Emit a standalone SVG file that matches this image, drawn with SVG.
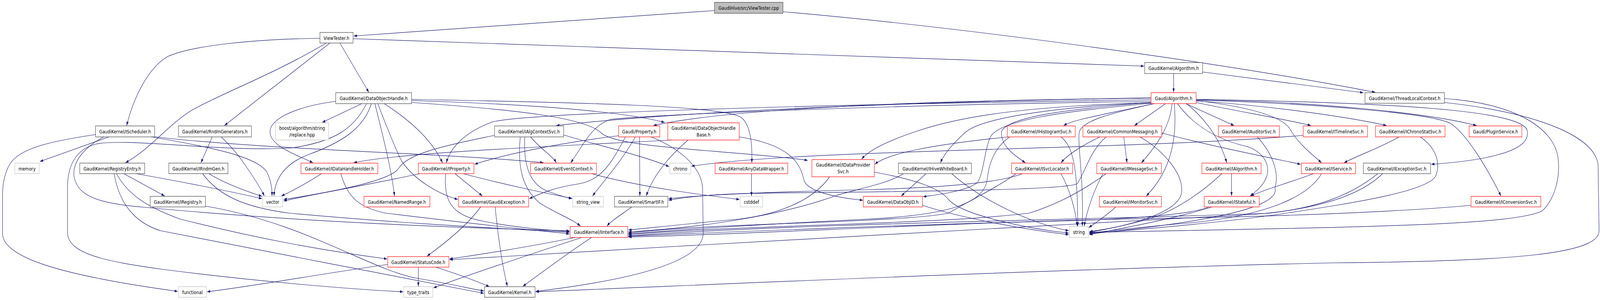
<svg xmlns="http://www.w3.org/2000/svg" width="4976" height="767" viewBox="0 0 4976 767" preserveAspectRatio="none" style="width:100%;height:100%;display:block">
<style>
.e{fill:none;stroke:#191970;stroke-width:1.2;marker-end:url(#ah)}
rect{fill:#ffffff;stroke-width:1.2}
.k{stroke:#404040}
.r{stroke:#ff0000}
.g{stroke:#bfbfbf}
.root{fill:#bfbfbf;stroke:#404040}
text{font-family:"DejaVu Sans","Liberation Sans",sans-serif;font-size:12.8px;text-anchor:middle;fill:#000000}
</style>
<defs>
<marker id="ah" viewBox="0 0 10 7" refX="10" refY="3.5" markerWidth="10" markerHeight="7" markerUnits="userSpaceOnUse" orient="auto"><path d="M0,0 L10,3.5 L0,7 Z" fill="#191970"/></marker>
</defs>
<rect x="0" y="0" width="4976" height="767" style="fill:#ffffff;stroke:none"/>
<g id="edges">
<path class="e" d="M2222,27 L1100,92"/>
<path class="e" d="M2435,30 C3000,70 3800,160 4277,236"/>
<path class="e" d="M1098,99 L3558,169"/>
<path class="e" d="M1057,110 L1147,236"/>
<path class="e" d="M995,98 C800,100 600,115 520,145 C460,175 415,250 394,321"/>
<path class="e" d="M1026,110 L698,321"/>
<path class="e" d="M1015,110 C850,190 700,235 600,280 C520,320 470,380 390,416"/>
<path class="e" d="M3650,188 L3650,236"/>
<path class="e" d="M3740,184 L4240,237"/>
<path class="e" d="M3625,265 L3528,321"/>
<path class="e" d="M3688,265 L3838,321"/>
<path class="e" d="M3720,262 C3850,285 4000,305 4077,321"/>
<path class="e" d="M3720,258 C3950,270 4200,300 4312,321"/>
<path class="e" d="M3720,255 C4100,260 4450,290 4592,321"/>
<path class="e" d="M3645,265 C3640,320 3600,370 3550,416"/>
<path class="e" d="M3652,265 C3660,340 3650,430 3565,501"/>
<path class="e" d="M3662,265 C3720,330 3800,360 3880,375 C3930,390 3950,420 3940,450 C3930,475 3905,490 3888,501"/>
<path class="e" d="M3690,265 C3760,310 3800,370 3815,416"/>
<path class="e" d="M3720,257 C3900,275 3990,300 4012,330 C4035,365 4080,395 4110,416"/>
<path class="e" d="M3720,254 C4300,262 4765,280 4750,340 C4755,390 4600,412 4451,420"/>
<path class="e" d="M3720,256 C4100,265 4450,290 4510,315 C4560,340 4625,430 4668,501"/>
<path class="e" d="M3580,262 C3300,280 3140,300 3115,335 C3110,370 3150,395 3189,416"/>
<path class="e" d="M3580,250 C3000,258 2200,278 1730,321"/>
<path class="e" d="M3580,251 C3000,256 2300,272 2032,321"/>
<path class="e" d="M3588,265 C3450,290 3340,305 3308,321"/>
<path class="e" d="M3580,262 C3200,272 3000,295 2860,333 C2760,360 2700,385 2680,407"/>
<path class="e" d="M3580,263 C3300,272 3050,300 3000,340 C2960,370 2935,395 2925,416"/>
<path class="e" d="M3582,264 C3300,285 3110,307 3080,350 C3060,390 3060,440 3040,467 C3000,490 2920,497 2871,503"/>
<path class="e" d="M3580,259 C2800,268 2100,290 1900,305 C1840,320 1815,370 1775,416"/>
<path class="e" d="M3580,255 C2500,268 1650,288 1530,312 C1440,340 1400,380 1388,416"/>
<path class="e" d="M3590,265 C3450,290 3360,310 3356,340 C3352,380 3370,450 3366,578"/>
<path class="e" d="M1125,265 L1002,313"/>
<path class="e" d="M1166,265 C1185,330 1215,420 1227,501"/>
<path class="e" d="M1175,265 C1200,320 1235,390 1250,413 C1290,460 1360,495 1424,510"/>
<path class="e" d="M1044,259 C900,275 835,310 840,340 C845,375 920,395 973,416"/>
<path class="e" d="M1155,265 C1130,330 1060,365 960,395 C880,420 855,460 852,501"/>
<path class="e" d="M1140,265 C1100,330 1040,362 909,378 C700,390 400,352 300,368 C230,382 210,430 210,480 L210,597 C215,650 330,668 500,688 C800,720 1100,740 1254,746"/>
<path class="e" d="M1280,262 C1600,280 1820,300 1870,340 C1920,380 2300,385 2512,410"/>
<path class="e" d="M1280,257 C1700,268 1950,288 2067,313"/>
<path class="e" d="M1280,254 C1800,262 2250,270 2305,300 C2335,320 2340,370 2338,416"/>
<path class="e" d="M1195,265 C1280,310 1345,360 1376,416"/>
<path class="e" d="M4492,262 C4750,285 4955,340 4970,420 L4973,590 C4975,650 4700,668 4150,672 C3200,690 2300,725 1666,746"/>
<path class="e" d="M4492,252 C4720,265 4830,330 4845,400 C4855,460 4830,515 4795,540 C4700,575 4300,580 3388,594"/>
<path class="e" d="M339,350 L124,413"/>
<path class="e" d="M297,344 C150,362 60,380 30,420 C10,450 8,480 8,500 L8,597 C8,660 200,705 553,745"/>
<path class="e" d="M323,350 C270,372 225,410 230,450 C240,500 300,520 450,530 C900,565 1400,582 1771,590"/>
<path class="e" d="M470,350 C650,375 800,400 830,440 C845,465 846,485 846,501"/>
<path class="e" d="M475,349 C800,382 1400,392 1690,416"/>
<path class="e" d="M660,350 L625,416"/>
<path class="e" d="M688,350 C720,375 745,400 765,425 C790,455 810,480 822,501"/>
<path class="e" d="M385,444 L512,501"/>
<path class="e" d="M355,444 C370,520 420,570 500,590 C800,640 1200,700 1505,750"/>
<path class="e" d="M362,444 C400,500 460,530 560,560 C800,610 1000,640 1204,662"/>
<path class="e" d="M423,444 C600,470 720,490 815,508"/>
<path class="e" d="M650,444 C700,470 770,490 815,502"/>
<path class="e" d="M630,444 C680,500 760,530 900,545 C1300,575 1600,585 1771,594"/>
<path class="e" d="M639,527 C950,570 1150,690 1300,712 C1400,725 1460,738 1505,744"/>
<path class="e" d="M1650,350 C1680,380 1720,400 1730,416"/>
<path class="e" d="M1538,346 C1400,370 1270,390 1240,430 C1215,465 1000,495 882,510"/>
<path class="e" d="M1618,350 C1610,420 1620,480 1680,520 C1740,550 1780,560 1805,578"/>
<path class="e" d="M1632,350 C1628,420 1645,468 1700,488 C1740,500 1760,505 1779,508"/>
<path class="e" d="M1753,345 C1850,370 1990,395 2081,426"/>
<path class="e" d="M1976,350 C1935,410 1880,460 1843,501"/>
<path class="e" d="M1989,350 L1990,501"/>
<path class="e" d="M1924,347 C1700,370 1550,400 1476,420"/>
<path class="e" d="M2025,350 C2100,375 2180,420 2185,480 L2187,597 C2185,680 1900,722 1666,745"/>
<path class="e" d="M1945,350 C1900,420 1870,460 1800,470 C1720,480 1680,495 1646,508"/>
<path class="e" d="M2140,358 C2080,400 2030,450 2010,501"/>
<path class="e" d="M2299,350 C2460,370 2490,420 2500,460 C2510,490 2600,505 2684,512"/>
<path class="e" d="M2090,358 C1700,375 1250,390 1100,416"/>
<path class="e" d="M2337,444 L2337,501"/>
<path class="e" d="M1840,444 C2000,480 2200,500 2300,510"/>
<path class="e" d="M3136,350 C2900,370 2760,392 2721,420"/>
<path class="e" d="M3300,350 C3345,380 3350,450 3352,578"/>
<path class="e" d="M3140,350 C3090,380 3075,420 3070,460 C3060,520 2950,550 2700,560 C2400,572 2100,588 1954,598"/>
<path class="e" d="M3495,350 L3505,416"/>
<path class="e" d="M3421,350 C3370,370 3320,395 3300,416"/>
<path class="e" d="M3613,340 C3750,370 3900,395 4045,420"/>
<path class="e" d="M3440,350 C3390,385 3375,440 3350,470 C3300,490 2600,490 2300,495 C2200,498 2120,505 2079,512"/>
<path class="e" d="M3545,350 C3610,380 3680,440 3675,490 C3670,545 3500,580 3388,592"/>
<path class="e" d="M4351,350 C4300,375 4230,395 4180,416"/>
<path class="e" d="M4417,350 C4470,380 4480,420 4465,450 C4440,490 4200,520 4000,545 C3800,570 3500,590 3388,596"/>
<path class="e" d="M3910,350 C3955,390 3980,440 3965,480 C3990,545 3600,580 3388,598"/>
<path class="e" d="M4053,346 C3500,385 2500,380 2150,425"/>
<path class="e" d="M4085,444 C4000,470 3930,485 3890,501"/>
<path class="e" d="M4110,444 C4070,500 3950,550 3700,570 C3550,580 3450,590 3388,596"/>
<path class="e" d="M3830,444 L3830,501"/>
<path class="e" d="M3800,444 C3740,490 3650,545 3550,565 C3480,580 3430,588 3388,594"/>
<path class="e" d="M4285,444 C4200,500 4100,530 3950,545 C3500,560 2500,570 1954,603"/>
<path class="e" d="M4300,444 C4230,500 4100,535 3900,548 C3300,575 2500,610 2100,630 C1800,645 1550,655 1398,664"/>
<path class="e" d="M4575,525 C4300,545 3900,555 3500,560 C3000,568 2300,600 1954,606"/>
<path class="e" d="M3470,529 C3440,552 3410,568 3386,582"/>
<path class="e" d="M3760,529 C3700,550 3500,560 3300,565 C2800,575 2200,595 1954,604"/>
<path class="e" d="M3770,529 C3650,560 3480,585 3388,600"/>
<path class="e" d="M3430,444 C3400,490 3380,540 3372,578"/>
<path class="e" d="M3440,444 C3380,480 3300,520 3200,545 C2900,575 2300,575 1954,600"/>
<path class="e" d="M3300,444 C3330,490 3345,540 3350,578"/>
<path class="e" d="M3160,444 C3100,480 3000,520 2950,545 C2800,570 2200,570 1954,596"/>
<path class="e" d="M3180,444 C3100,470 2900,480 2700,485 C2400,490 2150,500 2079,508"/>
<path class="e" d="M2880,444 L2803,501"/>
<path class="e" d="M2960,444 C3050,510 3200,570 3324,590"/>
<path class="e" d="M2810,444 C2760,470 2680,480 2600,500 C2500,530 2300,575 1954,593"/>
<path class="e" d="M2580,452 C2540,500 2450,545 2300,560 C2100,575 2000,585 1954,588"/>
<path class="e" d="M2719,440 C2850,460 2920,480 2950,510 C2990,550 3200,585 3324,596"/>
<path class="e" d="M2869,525 C3000,560 3200,588 3324,600"/>
<path class="e" d="M1000,444 C950,470 905,490 875,501"/>
<path class="e" d="M1060,444 C1080,500 1110,530 1200,545 C1500,575 1650,588 1771,598"/>
<path class="e" d="M1440,444 C1560,470 1700,495 1779,507"/>
<path class="e" d="M1386,444 C1380,510 1400,550 1500,565 C1600,582 1700,588 1771,592"/>
<path class="e" d="M1415,444 L1500,501"/>
<path class="e" d="M1306,444 C1100,480 950,500 882,514"/>
<path class="e" d="M1495,529 C1450,580 1370,630 1328,655"/>
<path class="e" d="M1540,529 C1548,600 1562,680 1578,732"/>
<path class="e" d="M1965,529 C1930,550 1900,565 1888,578"/>
<path class="e" d="M1790,607 C1650,630 1500,650 1398,662"/>
<path class="e" d="M1840,607 C1760,650 1680,700 1626,732"/>
<path class="e" d="M1810,607 C1650,650 1450,705 1348,736"/>
<path class="e" d="M1301,683 L1301,732"/>
<path class="e" d="M1355,683 C1420,700 1480,718 1522,733"/>
<path class="e" d="M1206,676 C1000,700 800,730 644,746"/>
</g>
<g id="n_cpp"><rect class="root" x="2222" y="6" width="213" height="28"/><text x="2328.5" y="24.6">GaudiHive/src/ViewTester.cpp</text></g>
<g id="n_vth"><rect class="k" x="995" y="83" width="103" height="27"/><text x="1046.5" y="101.6">ViewTester.h</text></g>
<g id="n_galg"><rect class="k" x="3560" y="160" width="180" height="28"/><text x="3650" y="178.6">GaudiKernel/Algorithm.h</text></g>
<g id="n_algo"><rect class="r" x="3580" y="237" width="140" height="28"/><text x="3650" y="255.6">Gaudi/Algorithm.h</text></g>
<g id="n_doh"><rect class="k" x="1044" y="237" width="236" height="28"/><text x="1162" y="255.6">GaudiKernel/DataObjectHandle.h</text></g>
<g id="n_tlc"><rect class="k" x="4245" y="237" width="247" height="27"/><text x="4368.5" y="255.6">GaudiKernel/ThreadLocalContext.h</text></g>
<g id="n_isch"><rect class="k" x="297" y="322" width="184" height="28"/><text x="389" y="340.6">GaudiKernel/IScheduler.h</text></g>
<g id="n_rndm"><rect class="k" x="555" y="322" width="227" height="28"/><text x="668.5" y="340.6">GaudiKernel/RndmGenerators.h</text></g>
<g id="n_boost"><rect class="g" x="857" y="314" width="165" height="44"/><text x="939.5" y="332.3">boost/algorithm/string</text><text x="939.5" y="349">/replace.hpp</text></g>
<g id="n_iacs"><rect class="k" x="1538" y="322" width="215" height="28"/><text x="1645.5" y="340.6">GaudiKernel/IAlgContextSvc.h</text></g>
<g id="n_gprop"><rect class="r" x="1924" y="322" width="128" height="28"/><text x="1988" y="340.6">Gaudi/Property.h</text></g>
<g id="n_dohb"><rect class="r" x="2077" y="314" width="222" height="44"/><text x="2188" y="332.3">GaudiKernel/DataObjectHandle</text><text x="2188" y="349">Base.h</text></g>
<g id="n_ihist"><rect class="r" x="3133" y="322" width="211" height="28"/><text x="3238.5" y="340.6">GaudiKernel/IHistogramSvc.h</text></g>
<g id="n_cmsg"><rect class="r" x="3368" y="322" width="245" height="28"/><text x="3490.5" y="340.6">GaudiKernel/CommonMessaging.h</text></g>
<g id="n_iaud"><rect class="r" x="3789" y="322" width="190" height="28"/><text x="3884" y="340.6">GaudiKernel/IAuditorSvc.h</text></g>
<g id="n_itl"><rect class="r" x="4053" y="322" width="200" height="28"/><text x="4153" y="340.6">GaudiKernel/ITimelineSvc.h</text></g>
<g id="n_ichr"><rect class="r" x="4278" y="322" width="216" height="28"/><text x="4386" y="340.6">GaudiKernel/IChronoStatSvc.h</text></g>
<g id="n_plug"><rect class="r" x="4569" y="322" width="164" height="28"/><text x="4651" y="340.6">Gaudi/PluginService.h</text></g>
<g id="n_mem"><rect class="g" x="46" y="417" width="76" height="27"/><text x="84" y="435.6">memory</text></g>
<g id="n_reg"><rect class="k" x="248" y="417" width="202" height="27"/><text x="349" y="435.6">GaudiKernel/RegistryEntry.h</text></g>
<g id="n_irg"><rect class="k" x="525" y="417" width="184" height="27"/><text x="617" y="435.6">GaudiKernel/IRndmGen.h</text></g>
<g id="n_idhh"><rect class="r" x="936" y="417" width="239" height="27"/><text x="1055.5" y="435.6">GaudiKernel/IDataHandleHolder.h</text></g>
<g id="n_iprop"><rect class="r" x="1301" y="417" width="173" height="27"/><text x="1387.5" y="435.6">GaudiKernel/IProperty.h</text></g>
<g id="n_evc"><rect class="r" x="1650" y="417" width="205" height="27"/><text x="1752.5" y="435.6">GaudiKernel/EventContext.h</text></g>
<g id="n_chrono"><rect class="g" x="2083" y="417" width="65" height="27"/><text x="2115.5" y="435.6">chrono</text></g>
<g id="n_adw"><rect class="r" x="2224" y="417" width="226" height="27"/><text x="2337" y="435.6">GaudiKernel/AnyDataWrapper.h</text></g>
<g id="n_idps"><rect class="r" x="2525" y="408" width="194" height="44"/><text x="2622" y="426.3">GaudiKernel/IDataProvider</text><text x="2622" y="443">Svc.h</text></g>
<g id="n_ihwb"><rect class="k" x="2794" y="417" width="227" height="27"/><text x="2907.5" y="435.6">GaudiKernel/IHiveWhiteBoard.h</text></g>
<g id="n_isl"><rect class="r" x="3146" y="417" width="190" height="27"/><text x="3241" y="435.6">GaudiKernel/ISvcLocator.h</text></g>
<g id="n_imsg"><rect class="r" x="3411" y="417" width="201" height="27"/><text x="3511.5" y="435.6">GaudiKernel/IMessageSvc.h</text></g>
<g id="n_ialg"><rect class="r" x="3738" y="417" width="184" height="27"/><text x="3830" y="435.6">GaudiKernel/IAlgorithm.h</text></g>
<g id="n_isvc"><rect class="r" x="4047" y="417" width="169" height="27"/><text x="4131.5" y="435.6">GaudiKernel/IService.h</text></g>
<g id="n_iexc"><rect class="k" x="4240" y="417" width="209" height="27"/><text x="4344.5" y="435.6">GaudiKernel/IExceptionSvc.h</text></g>
<g id="n_ireg"><rect class="k" x="467" y="502" width="172" height="27"/><text x="553" y="520.6">GaudiKernel/IRegistry.h</text></g>
<g id="n_vector"><rect class="g" x="817" y="502" width="62" height="27"/><text x="848" y="520.6">vector</text></g>
<g id="n_nr"><rect class="r" x="1132" y="502" width="205" height="27"/><text x="1234.5" y="520.6">GaudiKernel/NamedRange.h</text></g>
<g id="n_gexc"><rect class="r" x="1426" y="502" width="218" height="27"/><text x="1535" y="520.6">GaudiKernel/GaudiException.h</text></g>
<g id="n_sv"><rect class="g" x="1781" y="502" width="96" height="27"/><text x="1829" y="520.6">string_view</text></g>
<g id="n_sif"><rect class="k" x="1911" y="502" width="166" height="27"/><text x="1994" y="520.6">GaudiKernel/SmartIF.h</text></g>
<g id="n_cstd"><rect class="g" x="2302" y="502" width="70" height="27"/><text x="2337" y="520.6">cstddef</text></g>
<g id="n_doid"><rect class="r" x="2685" y="502" width="184" height="27"/><text x="2777" y="520.6">GaudiKernel/DataObjID.h</text></g>
<g id="n_imon"><rect class="r" x="3419" y="502" width="193" height="27"/><text x="3515.5" y="520.6">GaudiKernel/IMonitorSvc.h</text></g>
<g id="n_ista"><rect class="r" x="3745" y="502" width="171" height="27"/><text x="3830.5" y="520.6">GaudiKernel/IStateful.h</text></g>
<g id="n_iconv"><rect class="r" x="4575" y="502" width="217" height="27"/><text x="4683.5" y="520.6">GaudiKernel/IConversionSvc.h</text></g>
<g id="n_iint"><rect class="r" x="1773" y="579" width="179" height="28"/><text x="1862.5" y="597.6">GaudiKernel/IInterface.h</text></g>
<g id="n_string"><rect class="g" x="3326" y="579" width="59" height="28"/><text x="3355.5" y="597.6">string</text></g>
<g id="n_sc"><rect class="r" x="1206" y="656" width="190" height="27"/><text x="1301" y="674.6">GaudiKernel/StatusCode.h</text></g>
<g id="n_func"><rect class="g" x="555" y="733" width="87" height="27"/><text x="598.5" y="751.6">functional</text></g>
<g id="n_tt"><rect class="g" x="1256" y="733" width="90" height="27"/><text x="1301" y="751.6">type_traits</text></g>
<g id="n_kern"><rect class="k" x="1507" y="733" width="157" height="27"/><text x="1585.5" y="751.6">GaudiKernel/Kernel.h</text></g>
</svg>
